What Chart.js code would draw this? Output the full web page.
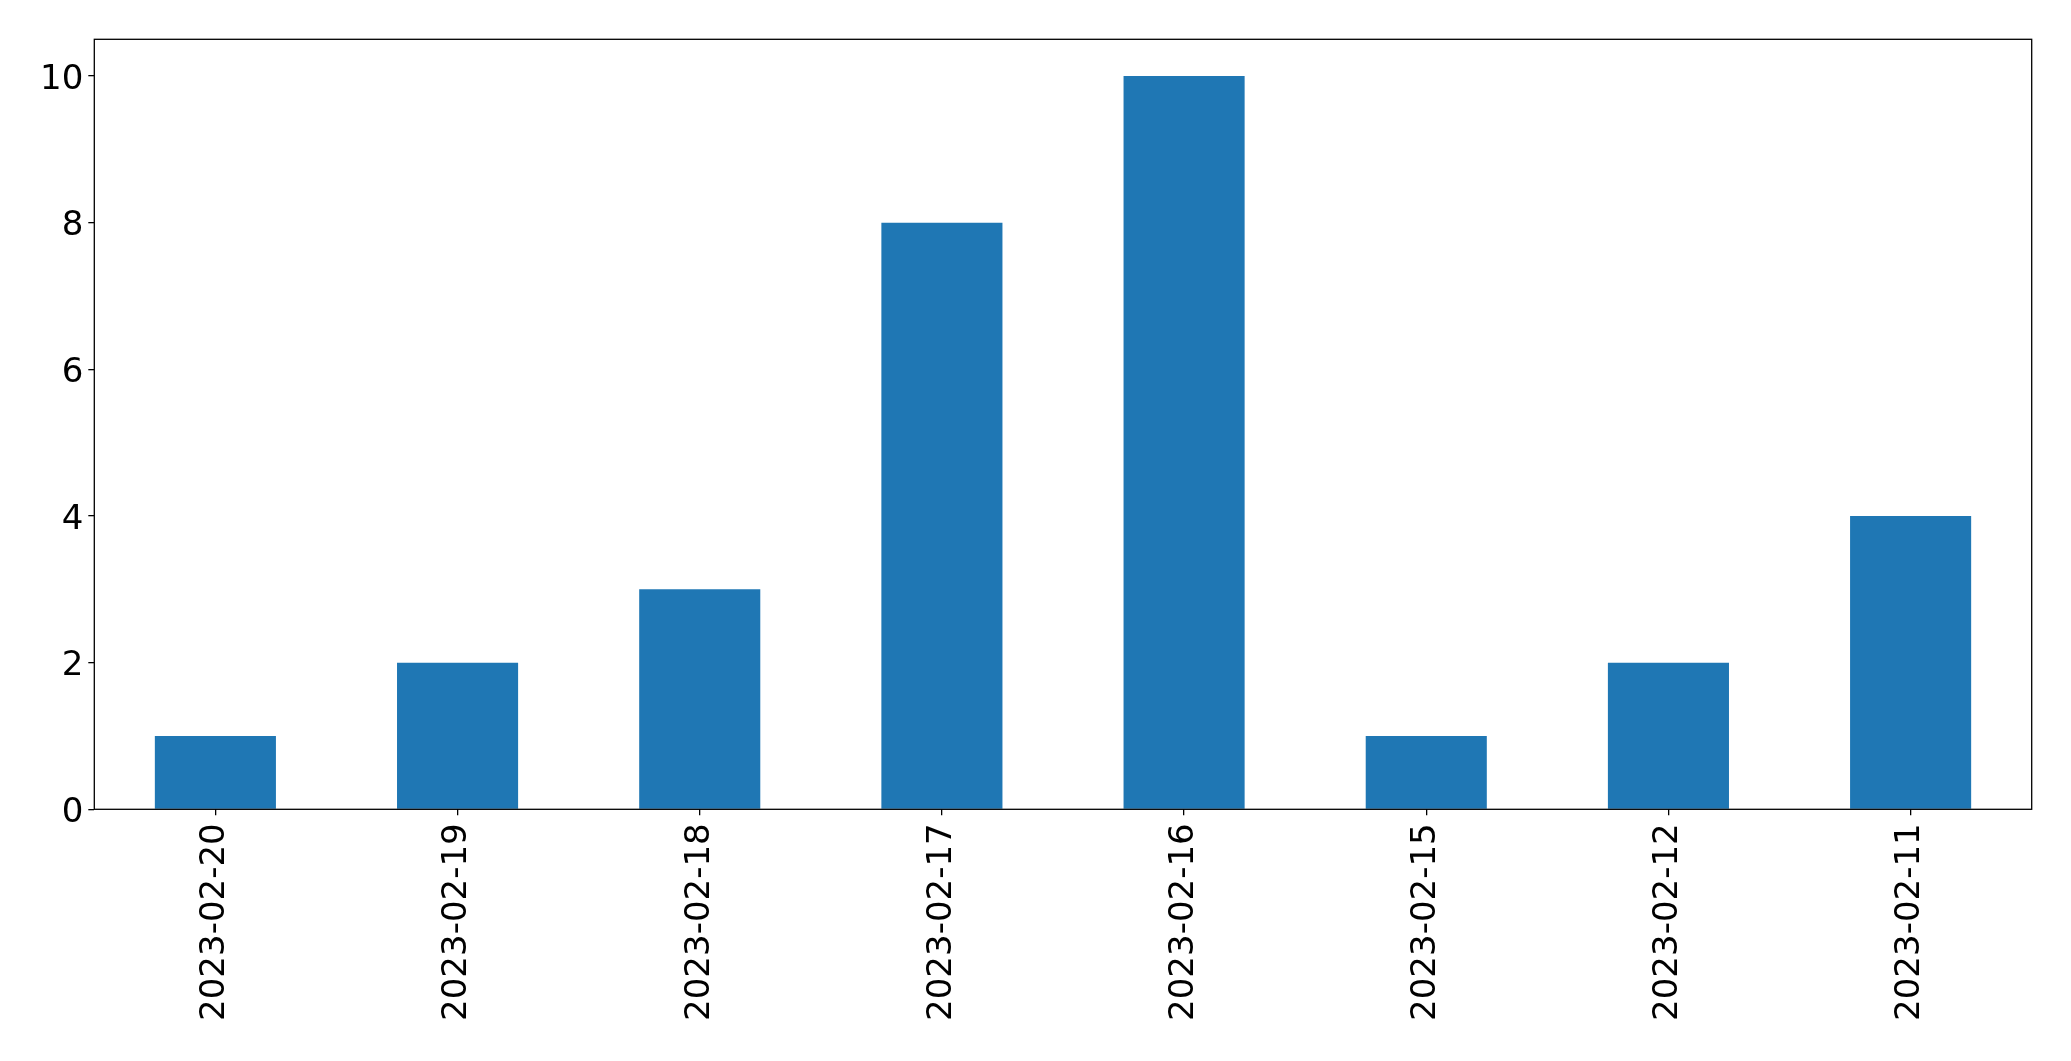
<!DOCTYPE html>
<html>
<head>
<meta charset="utf-8">
<script src="https://cdn.jsdelivr.net/npm/chart.js@4/dist/chart.umd.min.js"></script>
<style>
  html, body { margin: 0; padding: 0; background: #fff; }
  #wrap { width: 2071px; height: 1061px; position: relative; }
</style>
</head>
<body>
<div id="wrap"><canvas id="c" width="2071" height="1061"></canvas></div>
<script>
const categories = ["2023-02-20", "2023-02-19", "2023-02-18", "2023-02-17", "2023-02-16", "2023-02-15", "2023-02-12", "2023-02-11"];
const counts = [1, 2, 3, 8, 10, 1, 2, 4];
const yTicks = [0, 2, 4, 6, 8, 10];

const framePlugin = {
  id: 'frame',
  afterDraw(chart) {
    const a = chart.chartArea;
    const ctx = chart.ctx;
    ctx.save();
    ctx.strokeStyle = '#000';
    ctx.lineWidth = 1.3;
    ctx.strokeRect(a.left, a.top, a.right - a.left, a.bottom - a.top);
    ctx.restore();
  }
};

new Chart(document.getElementById('c'), {
  type: 'bar',
  data: {
    labels: categories,
    datasets: [{
      data: counts,
      backgroundColor: '#1f77b4',
      borderWidth: 0,
      categoryPercentage: 1.0,
      barPercentage: 0.5
    }]
  },
  options: {
    responsive: false,
    animation: false,
    devicePixelRatio: 1,
    layout: { padding: { top: 39.3, right: 39.3, left: 0, bottom: 0 } },
    plugins: { legend: { display: false }, tooltip: { enabled: false } },
    scales: {
      x: {
        offset: true,
        grid: { display: true, drawOnChartArea: false, offset: false, tickLength: 6, color: '#000', tickColor: '#000', lineWidth: 1.3 },
        border: { display: false },
        ticks: {
          color: '#000',
          font: { family: 'DejaVu Sans', size: 34 },
          minRotation: 90, maxRotation: 90,
          padding: 8,
          autoSkip: false
        },
        afterFit(scale) { scale.height = 1061 - 809.3; }
      },
      y: {
        min: 0,
        max: 10.5,
        grid: { display: true, drawOnChartArea: false, tickLength: 6, color: '#000', tickColor: '#000', lineWidth: 1.3 },
        border: { display: false },
        ticks: {
          color: '#000',
          font: { family: 'DejaVu Sans', size: 34 },
          padding: 5,
          labelOffset: 4,
          stepSize: 2
        },
        afterBuildTicks(scale) {
          scale.ticks = yTicks.map(v => ({ value: v }));
        },
        afterFit(scale) { scale.width = 94.3; }
      }
    }
  },
  plugins: [framePlugin]
});
</script>
</body>
</html>
